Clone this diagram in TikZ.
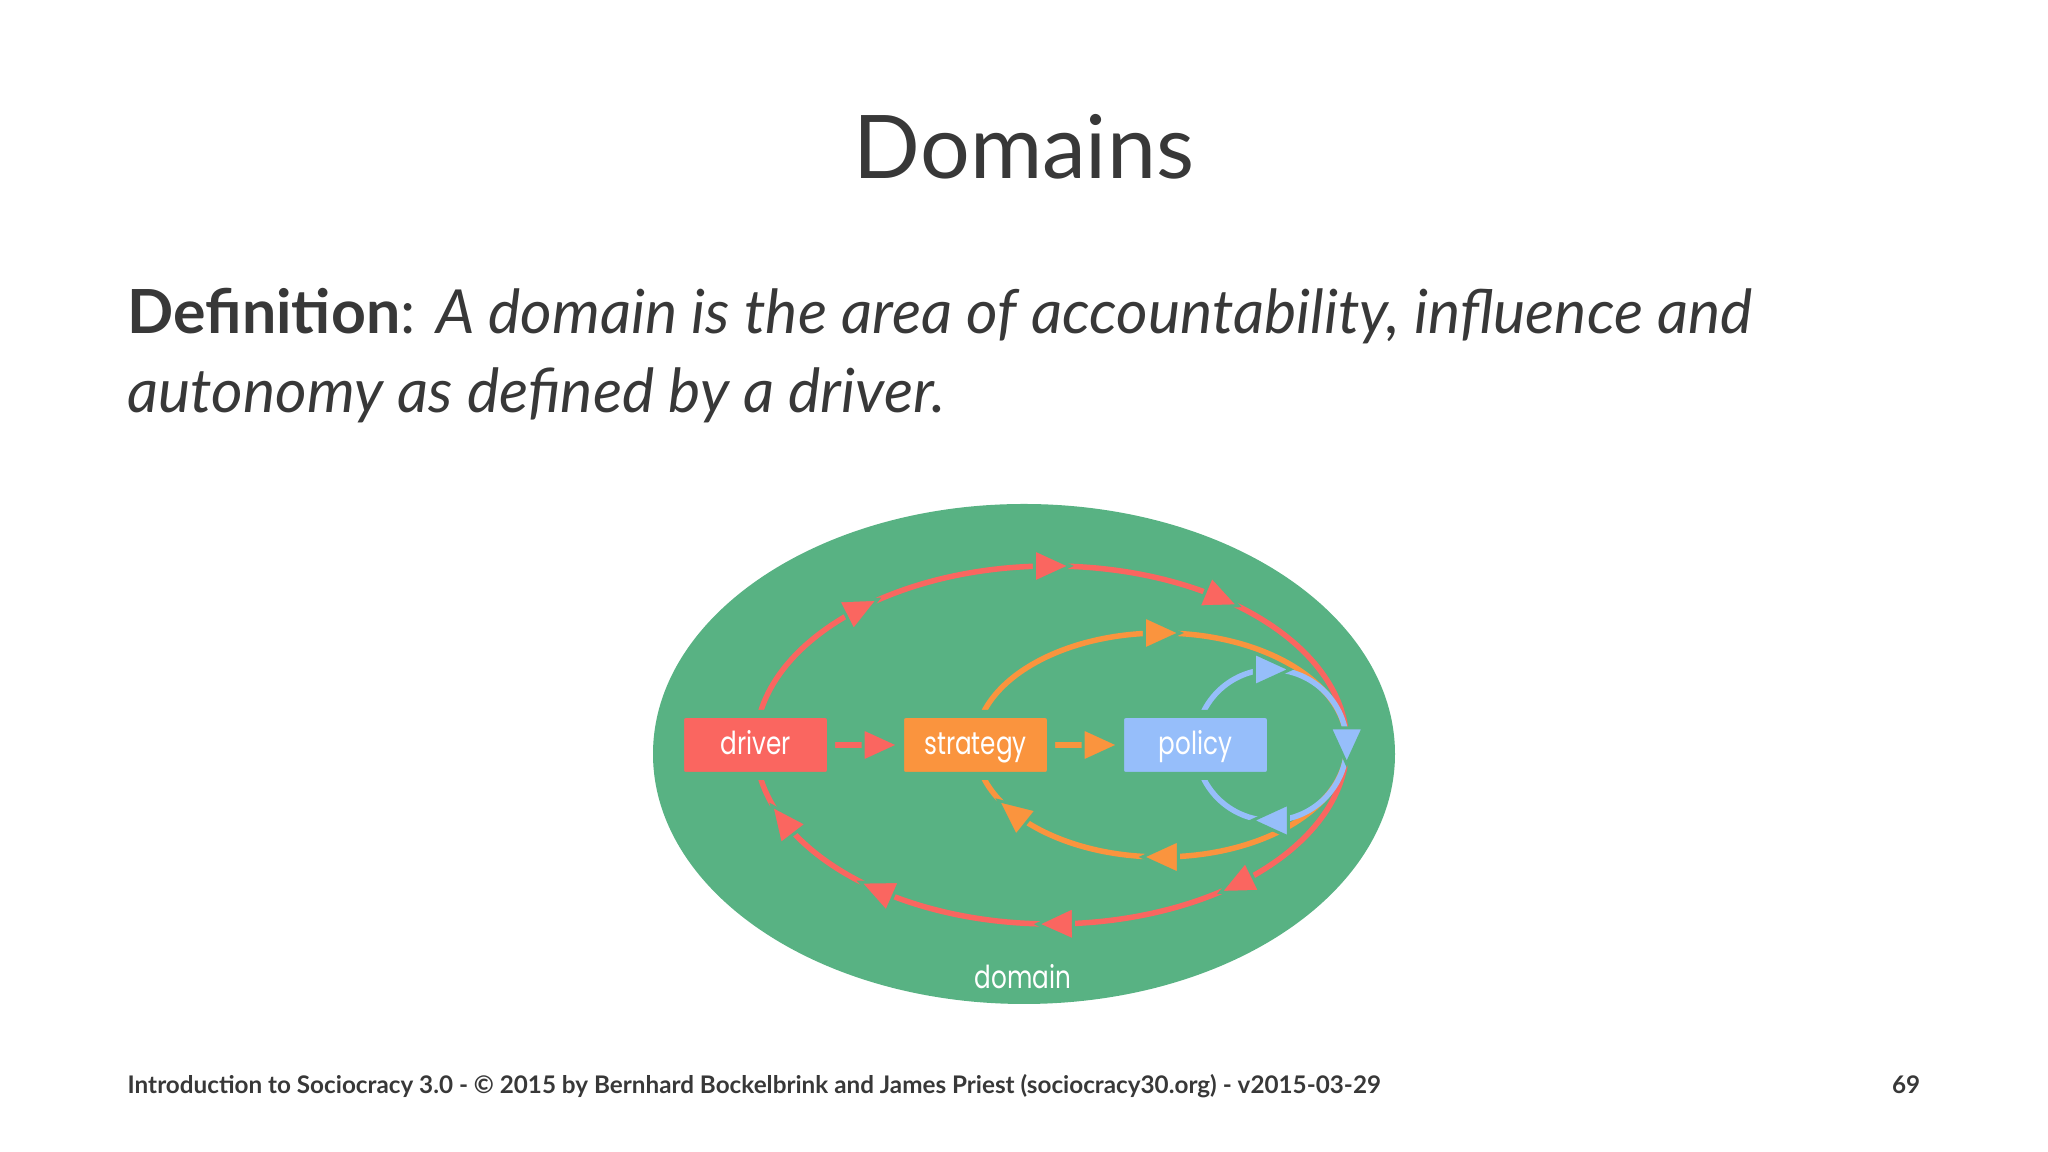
\documentclass[tikz,border=0pt]{standalone}
\usepackage{fontspec}
\setmainfont{Lato}
\newfontfamily\boxfont[FakeStretch=0.78]{Poppins}
\usetikzlibrary{positioning,calc,backgrounds}

\definecolor{domaingreen}{HTML}{58B283}
\definecolor{driverred}{HTML}{FA6660}
\definecolor{strategyorange}{HTML}{FA943E}
\definecolor{policyblue}{HTML}{96BEFA}
\definecolor{slidetext}{HTML}{383838}

\tikzset{
  box/.style={draw=domaingreen, line width=0.08cm, rounded corners=0.05cm,
    minimum width=1.51cm, minimum height=0.62cm, inner sep=0pt, outer sep=0pt,
    text height=7pt, text depth=1.4pt,
    text=white, font=\boxfont\fontsize{9}{10}\selectfont},
  slide/.style={inner sep=0pt, text=slidetext},
  flowline/.style={line width=0.055cm},
}
\newcommand{\flowtip}[3]{%
  \filldraw[fill=#1, draw=domaingreen, line width=0.03cm, shift={#2}, rotate=#3]
    (0.19,0) -- (-0.17,0.165) -- (-0.17,-0.165) -- cycle;}

\begin{document}
\begin{tikzpicture}
  \useasboundingbox (0,0) rectangle (20.48,11.52);
  % slide texts
  \node[slide, anchor=base, font=\fontsize{25}{30}\selectfont] (title) at (10.24,9.73) {Domains};
  \node[slide, anchor=base west, font=\fontsize{17.3}{22}\selectfont] (def1) at (1.27,8.18)
    {\textbf{Definition}: \textit{A domain is the area of accountability, influence and}};
  \node[slide, anchor=base west, font=\fontsize{17.3}{22}\selectfont] (def2) at (1.27,7.39)
    {\textit{autonomy as defined by a driver.}};
  \node[slide, anchor=base west, font=\bfseries\fontsize{6.9}{8}\selectfont] (footer) at (1.27,0.58)
    {Introduction to Sociocracy 3.0 - © 2015 by Bernhard Bockelbrink and James Priest (sociocracy30.org) - v2015-03-29};
  \node[slide, anchor=base east, font=\bfseries\fontsize{6.9}{8}\selectfont] (pagenum) at (19.21,0.58) {69};

  % boxes
  \node[box, fill=driverred] (driver) at (7.555,4.07) {driver};
  \node[box, fill=strategyorange, right=0.69cm of driver] (strategy) {strategy};
  \node[box, fill=policyblue, right=0.69cm of strategy] (policy) {policy};
  \node[text=white, font=\boxfont\fontsize{9}{10}\selectfont] (domain) at (10.23,1.75) {domain};

  \begin{scope}[on background layer]
    \fill[domaingreen] (10.24,3.98) ellipse[x radius=3.71, y radius=2.50];
    \coordinate (turn) at (13.47,4.07);
    \coordinate (redc) at ($(driver)!0.5!(turn)$);
    \coordinate (orangec) at ($(strategy)!0.5!(turn)$);
    \coordinate (bluec) at ($(policy)!0.5!(turn)$);

    % driver cycle
    \draw[flowline, driverred] (redc) ellipse[x radius=2.9575, y radius=1.79];
    \foreach \t in {130,90,55,-51,-89,-126,-155} {
      \pgfmathsetmacro\rot{atan2(-1.79*cos(\t),2.9575*sin(\t))}
      \flowtip{driverred}{($(redc)+(\t:2.9575 and 1.79)$)}{\rot}
    }
    % strategy cycle
    \draw[flowline, strategyorange] (orangec) ellipse[x radius=1.8575, y radius=1.12];
    \foreach \t in {90,-90,-143} {
      \pgfmathsetmacro\rot{atan2(-1.12*cos(\t),1.8575*sin(\t))}
      \flowtip{strategyorange}{($(orangec)+(\t:1.8575 and 1.12)$)}{\rot}
    }
    % policy cycle
    \draw[flowline, policyblue] (bluec) circle[radius=0.755];
    \foreach \t in {90,0,-90} {
      \pgfmathsetmacro\rot{atan2(-cos(\t),sin(\t))}
      \flowtip{policyblue}{($(bluec)+(\t:0.755)$)}{\rot}
    }

    % driver -> strategy -> policy
    \coordinate[left=0.2cm of strategy.west] (ds);
    \coordinate[left=0.2cm of policy.west] (sp);
    \draw[flowline, driverred] (driver.east) -- (ds);
    \flowtip{driverred}{(ds)}{0}
    \draw[flowline, strategyorange] (strategy.east) -- (sp);
    \flowtip{strategyorange}{(sp)}{0}
  \end{scope}
\end{tikzpicture}
\end{document}
